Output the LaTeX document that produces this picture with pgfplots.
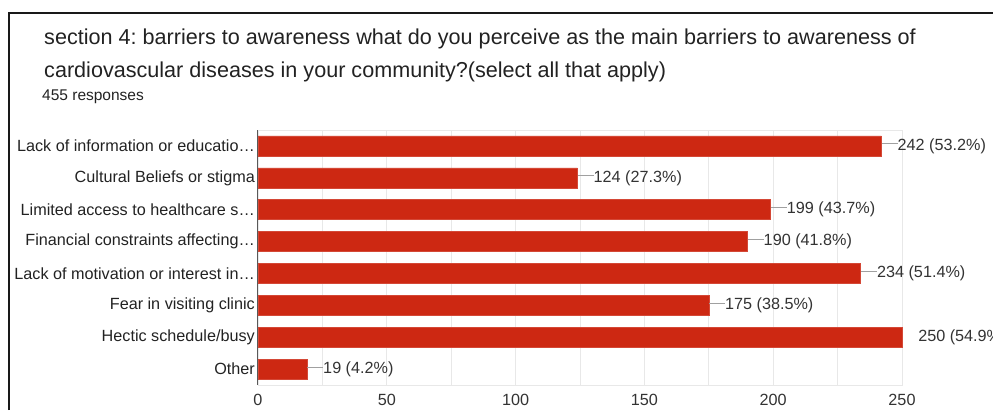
\documentclass[border=0pt]{standalone}
\usepackage{pgfplots}
\pgfplotsset{compat=1.18}
\usepackage{pgfplotstable}
\usepackage{fontspec}
\setmainfont{Liberation Sans}
\frenchspacing
\definecolor{barred}{RGB}{205,40,18}
\definecolor{gridc}{RGB}{232,232,232}
\definecolor{leader}{RGB}{160,160,160}
\definecolor{txt}{RGB}{34,34,34}
\definecolor{valtxt}{RGB}{51,51,51}
\newcommand{\lead}{\textcolor{leader}{\rule[0.36em]{16pt}{0.9pt}}}
\newcommand{\nolead}{\hspace*{16pt}}

\pgfplotstableread[col sep=comma]{
idx,value,label
0,242,\lead 242 (53.2\%)
1,124,\lead 124 (27.3\%)
2,199,\lead 199 (43.7\%)
3,190,\lead 190 (41.8\%)
4,234,\lead 234 (51.4\%)
5,175,\lead 175 (38.5\%)
6,250,\nolead 250 (54.9\%)
7,19,\lead 19 (4.2\%)
}\datatable

\begin{document}
\begin{tikzpicture}[x=1pt,y=1pt]
% frame
\draw[line width=2.2pt, black!90] (9,0) -- (9,397) -- (993,397);
% title
\node[anchor=base west, inner sep=0pt, text=txt, font=\fontsize{21.6}{24}\selectfont] at (44,365) {section 4: barriers to awareness what do you perceive as the main barriers to awareness of};
\node[anchor=base west, inner sep=0pt, text=txt, font=\fontsize{21.6}{24}\selectfont] at (44,332) {cardiovascular diseases in your community?(select all that apply)};
\node[anchor=base west, inner sep=0pt, text=txt, font=\fontsize{15.5}{18}\selectfont] at (42,309) {455 responses};
\begin{axis}[
  at={(258pt,25pt)}, anchor=south west,
  scale only axis, width=644pt, height=255pt,
  xbar, bar width=20pt,
  xmin=0, xmax=250,
  ymin=-0.5, ymax=7.5, y dir=reverse,
  xtick={0,50,...,250},
  minor x tick num=1,
  xmajorgrids, xminorgrids,
  major grid style={gridc, line width=0.8pt},
  minor grid style={gridc, line width=0.8pt},
  axis line style={gridc, line width=0.8pt},
  tick style={draw=none},
  major tick length=0pt, minor tick length=0pt,
  /pgf/number format/assume math mode=true,
  ytick={0,...,7},
  yticklabels={Lack of information or educatio…, Cultural Beliefs or stigma, Limited access to healthcare s…, Financial constraints affecting…, Lack of motivation or interest in…, Fear in visiting clinic, Hectic schedule/busy, Other},
  yticklabel style={inner sep=0pt, xshift=-3pt, text=txt, font=\fontsize{16.2}{18}\selectfont},
  xticklabel style={inner sep=0pt, yshift=-9pt, text=valtxt, font=\fontsize{16.2}{18}\selectfont},
  nodes near coords,
  nodes near coords style={anchor=west, inner sep=0pt, text=valtxt, font=\fontsize{16.2}{18}\selectfont},
  point meta=explicit symbolic,
  clip=false,
]
\addplot[fill=barred, draw=barred!85!white, line width=0.6pt] table[x=value, y=idx, meta=label] {\datatable};
\draw[black!65, line width=1pt] (rel axis cs:0,0) -- (rel axis cs:0,1);
\end{axis}
\pgfresetboundingbox
\useasboundingbox (0,0) rectangle (993,410);
\end{tikzpicture}
\end{document}
